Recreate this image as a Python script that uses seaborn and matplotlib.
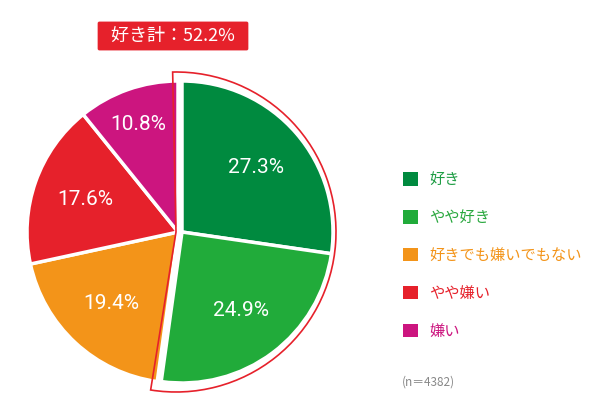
import seaborn as sns
import matplotlib.pyplot as plt
from matplotlib.patches import Wedge, Patch

sns.set_style("white")
plt.rcParams['font.family'] = ['Noto Sans CJK JP', 'DejaVu Sans']

categories = ["好き", "やや好き", "好きでも嫌いでもない", "やや嫌い", "嫌い"]
shares = [27.3, 24.9, 19.4, 17.6, 10.8]
like_total = 52.2
n_total = 4382

colors = ["#008a3f", "#21ab3a", "#f39419", "#e6212b", "#cc157f"]
text_colors = ["#1f9d45", "#2aa83f", "#f39419", "#e6212b", "#cc157f"]
red = "#e6212b"

fig = plt.figure(figsize=(6, 4.08), dpi=100)
ax = fig.add_axes([0, 0, 1, 1])

# pie laid out in pixel units (y up)
cx, cy, r = 178, 176, 151
wedges, texts, autotexts = ax.pie(
    shares, colors=colors, startangle=90, counterclock=False,
    center=(cx, cy), radius=r,
    autopct=lambda p: f"{p:.1f}%", pctdistance=0.65,
    wedgeprops=dict(edgecolor="white", linewidth=2.5),
    textprops=dict(color="white", fontsize=15, family="Roboto"),
)
autotexts[4].set_position((cx - 40, cy + 107))

# shift the "like" group slightly to the right
shift = 4
for w, t in zip(wedges[:2], autotexts[:2]):
    w.set_center((cx + shift, cy))
    x, y = t.get_position()
    t.set_position((x + shift, y))

# red outline around the like group
pad = 1.2
outline = Wedge((cx - 2, cy), r + 9, 90 - 360 * like_total / 100 - pad, 90 + pad,
                facecolor="none", edgecolor=red, linewidth=1.2)
ax.add_patch(outline)

ax.text(173, 372, f"  好き計：{like_total}%  ", color="white", fontsize=13,
        ha="center", va="center",
        bbox=dict(boxstyle="round,pad=0.3,rounding_size=0.1", facecolor=red, edgecolor="none"))

handles = [Patch(facecolor=c, edgecolor="none") for c in colors]
leg = ax.legend(handles, categories, loc="upper left",
                bbox_to_anchor=(403 / 600, (408 - 171) / 408), bbox_transform=fig.transFigure,
                frameon=False, fontsize=11, handlelength=1.0, handleheight=1.0,
                handletextpad=0.7, labelspacing=1.37, borderpad=0, borderaxespad=0)
for t, c in zip(leg.get_texts(), text_colors):
    t.set_color(c)

ax.text(402, 26, f"(n＝{n_total})", color="#888888", fontsize=8.5, ha="left", va="center")

ax.set_xlim(0, 600)
ax.set_ylim(0, 408)
ax.set_aspect("equal")
ax.axis("off")

fig.savefig("out.png", dpi=100)
